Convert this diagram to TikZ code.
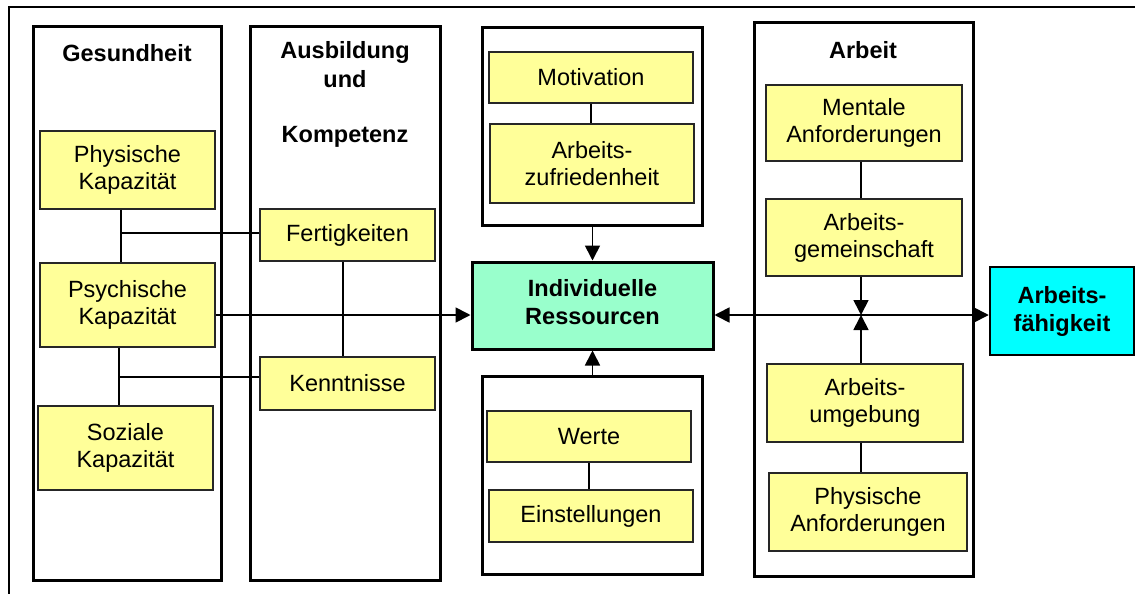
\documentclass[tikz,border=0pt]{standalone}
\usepackage{fontspec}
\setmainfont{Liberation Sans}
\usetikzlibrary{arrows.meta}
\definecolor{ybox}{HTML}{FFFF99}
\definecolor{gbox}{HTML}{99FFCC}
\definecolor{cbox}{HTML}{00FFFF}
\begin{document}
\begin{tikzpicture}[x=1pt,y=-1pt,
  every node/.style={font=\fontsize{23.5}{27}\selectfont, align=center, inner sep=0pt},
  grp/.style={draw=black, line width=3pt, fill=white},
  ybx/.style={draw=black!85, line width=1.3pt, fill=ybox},
  con/.style={draw=black, line width=1.7pt},
  arr/.style={con, -{Triangle[length=15pt,width=15pt]}},
  darr/.style={con, {Triangle[length=15pt,width=15pt]}-{Triangle[length=15pt,width=15pt]}},
  ttl/.style={font=\fontsize{23.5}{27}\selectfont\bfseries}
]
\useasboundingbox (0,0) rectangle (1135,594);
\fill[white] (0,0) rectangle (1135,594);
% outer frame (top and left edge)
\coordinate (ftl) at (9,7);
\coordinate (ftr) at (1136,7);
\coordinate (fbl) at (9,595);
\draw[line width=2.5pt] (fbl) -- (ftl) -- (ftr);

% group boxes
\node[grp, minimum width=188pt, minimum height=553pt] (gs) at (127,303.5) {};
\node[grp, minimum width=190pt, minimum height=553pt] (ak) at (345,303.5) {};
\node[grp, minimum width=220pt, minimum height=197pt] (mg) at (592,126.5) {};
\node[grp, minimum width=220pt, minimum height=198pt] (wg) at (592,475) {};
\node[grp, minimum width=219pt, minimum height=553pt] (ag) at (863.5,299.5) {};

% titles
\node[ttl] (tgs) at (127,53) {Gesundheit};
\node[ttl] (tak1) at (345,52) {Ausbildung};
\node[ttl] (tak2) at (345,79) {und};
\node[ttl] (tak3) at (345,137) {Kompetenz};
\node[ttl] (tag) at (863,50) {Arbeit};

% yellow boxes
\node[ybx, minimum width=175pt, minimum height=78pt] (pk) at (127.5,170) {Physische\\Kapazität};
\node[ybx, minimum width=175pt, minimum height=84pt] (psk) at (127.5,305) {Psychische\\Kapazität};
\node[ybx, minimum width=175pt, minimum height=84pt] (sk) at (125.5,448) {Soziale\\Kapazität};
\node[ybx, minimum width=175pt, minimum height=52pt] (fe) at (347.5,235) {Fertigkeiten};
\node[ybx, minimum width=175pt, minimum height=53pt] (ke) at (347.5,383.5) {Kenntnisse};
\node[ybx, minimum width=204pt, minimum height=51pt] (mo) at (591,77.5) {Motivation};
\node[ybx, minimum width=204pt, minimum height=79pt] (az) at (592,163.5) {Arbeits-\\zufriedenheit};
\node[ybx, minimum width=204pt, minimum height=51pt] (we) at (589,436.5) {Werte};
\node[ybx, minimum width=204pt, minimum height=52pt] (ei) at (591,516) {Einstellungen};
\node[ybx, minimum width=196pt, minimum height=76pt] (ma) at (864,123) {Mentale\\Anforderungen};
\node[ybx, minimum width=196pt, minimum height=77pt] (agm) at (864,237.5) {Arbeits-\\gemeinschaft};
\node[ybx, minimum width=196pt, minimum height=78pt] (au) at (865,403) {Arbeits-\\umgebung};
\node[ybx, minimum width=198pt, minimum height=78pt] (pa) at (868,512) {Physische\\Anforderungen};

% central nodes
\node[draw=black, line width=3pt, fill=gbox, minimum width=241pt, minimum height=87pt, font=\fontsize{23.5}{28}\selectfont\bfseries] (ir) at (592.5,305.5) {Individuelle\\Ressourcen\\[-20pt]\mbox{}};
\node[draw=black, line width=2.5pt, fill=cbox, minimum width=144pt, minimum height=88pt, font=\fontsize{23.5}{28}\selectfont\bfseries] (af) at (1062,311) {Arbeits-\\fähigkeit};

% helper coordinates
\coordinate (jy) at (0,315);
\coordinate (c1) at (121,233);
\coordinate (c2) at (119,377);
\coordinate (c3) at (343,0);
\coordinate (c4) at (861,0);

% connectors Gesundheit / Ausbildung
\draw[con] (pk.south -| c1) -- (psk.north -| c1);
\draw[con] (c1) -- (c1 -| fe.west);
\draw[con] (psk.south -| c2) -- (sk.north -| c2);
\draw[con] (c2) -- (c2 -| ke.west);
\draw[con] (fe.south -| c3) -- (ke.north -| c3);

% main arrows
\draw[arr] (psk.east |- jy) -- (ir.west |- jy);
\draw[arr] (mg.south -| ir.north) -- (ir.north);
\draw[arr] (wg.north -| ir.south) -- (ir.south);
\draw[darr] (ir.east |- jy) -- (af.west |- jy);

% Motivation / Werte connectors
\draw[con] (mo.south) -- (mo.south |- az.north);
\draw[con] (we.south) -- (we.south |- ei.north);

% Arbeit connectors
\draw[con] (ma.south -| c4) -- (agm.north -| c4);
\draw[arr] (agm.south -| c4) -- (c4 |- jy);
\draw[arr] (au.north -| c4) -- (c4 |- jy);
\draw[con] (au.south -| c4) -- (pa.north -| c4);
\end{tikzpicture}
\end{document}
